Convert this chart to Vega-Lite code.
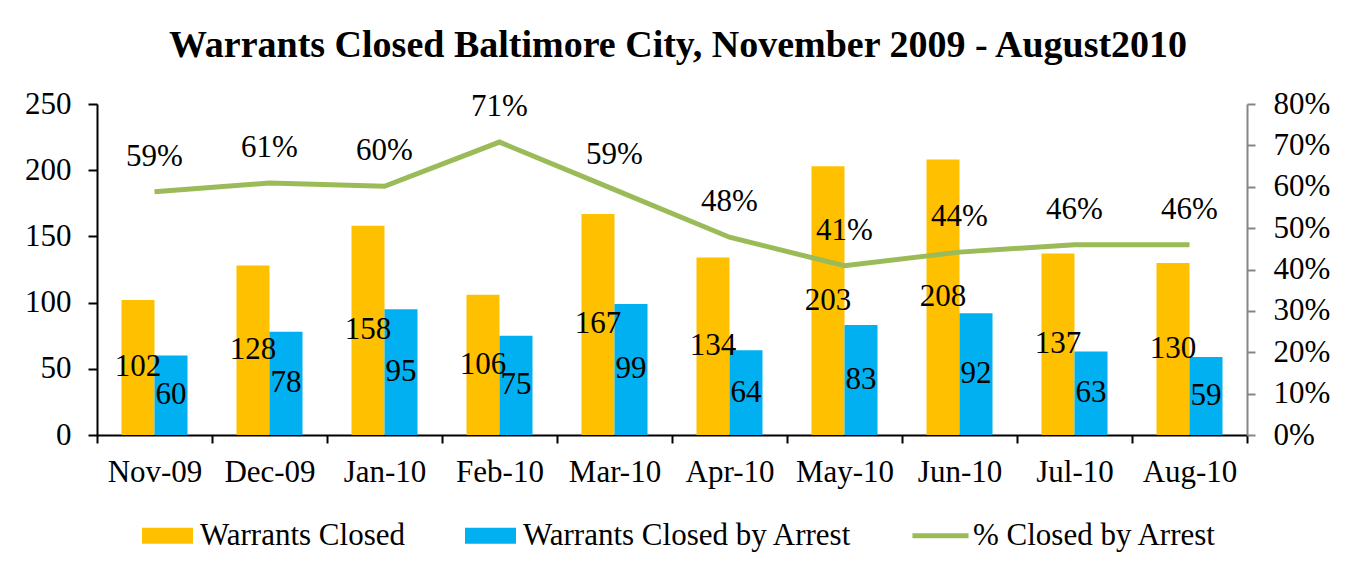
{
  "$schema": "https://vega.github.io/schema/vega-lite/v6.json",
  "width": 1150,
  "height": 331,
  "autosize": {"type": "none"},
  "padding": {"left": 97, "top": 104, "right": 107, "bottom": 140},
  "background": "white",
  "title": {
    "text": "Warrants  Closed Baltimore City, November 2009 - August2010",
    "font": "Liberation Serif",
    "fontSize": 38,
    "fontWeight": "bold",
    "color": "black",
    "anchor": "middle",
    "offset": 23,
    "dx": 6
  },
  "config": {
    "font": "Liberation Serif",
    "view": {"stroke": null},
    "text": {"font": "Liberation Serif"},
    "axis": {
      "labelFont": "Liberation Serif",
      "labelFontSize": 31,
      "labelColor": "black",
      "grid": false,
      "title": null
    },
    "legend": {
      "orient": "none",
      "legendX": 45,
      "legendY": 406,
      "direction": "horizontal",
      "title": null,
      "labelFont": "Liberation Serif",
      "labelFontSize": 31,
      "labelColor": "black",
      "symbolSize": 2601,
      "symbolStrokeWidth": 0,
      "labelOffset": 7,
      "columnPadding": 60,
      "labelLimit": 600
    }
  },
  "datasets": {
    "bars": [
      {"month": "Nov-09", "series": "Warrants Closed", "count": 102},
      {"month": "Nov-09", "series": "Warrants Closed by Arrest", "count": 60},
      {"month": "Dec-09", "series": "Warrants Closed", "count": 128},
      {"month": "Dec-09", "series": "Warrants Closed by Arrest", "count": 78},
      {"month": "Jan-10", "series": "Warrants Closed", "count": 158},
      {"month": "Jan-10", "series": "Warrants Closed by Arrest", "count": 95},
      {"month": "Feb-10", "series": "Warrants Closed", "count": 106},
      {"month": "Feb-10", "series": "Warrants Closed by Arrest", "count": 75},
      {"month": "Mar-10", "series": "Warrants Closed", "count": 167},
      {"month": "Mar-10", "series": "Warrants Closed by Arrest", "count": 99},
      {"month": "Apr-10", "series": "Warrants Closed", "count": 134},
      {"month": "Apr-10", "series": "Warrants Closed by Arrest", "count": 64},
      {"month": "May-10", "series": "Warrants Closed", "count": 203},
      {"month": "May-10", "series": "Warrants Closed by Arrest", "count": 83},
      {"month": "Jun-10", "series": "Warrants Closed", "count": 208},
      {"month": "Jun-10", "series": "Warrants Closed by Arrest", "count": 92},
      {"month": "Jul-10", "series": "Warrants Closed", "count": 137},
      {"month": "Jul-10", "series": "Warrants Closed by Arrest", "count": 63},
      {"month": "Aug-10", "series": "Warrants Closed", "count": 130},
      {"month": "Aug-10", "series": "Warrants Closed by Arrest", "count": 59}
    ],
    "pct": [
      {"month": "Nov-09", "pct": 0.588},
      {"month": "Dec-09", "pct": 0.609},
      {"month": "Jan-10", "pct": 0.601},
      {"month": "Feb-10", "pct": 0.708},
      {"month": "Mar-10", "pct": 0.593},
      {"month": "Apr-10", "pct": 0.478},
      {"month": "May-10", "pct": 0.409},
      {"month": "Jun-10", "pct": 0.442},
      {"month": "Jul-10", "pct": 0.46},
      {"month": "Aug-10", "pct": 0.46}
    ]
  },
  "encoding": {
    "x": {
      "field": "month",
      "type": "nominal",
      "sort": ["Nov-09","Dec-09","Jan-10","Feb-10","Mar-10","Apr-10","May-10","Jun-10","Jul-10","Aug-10"],
      "scale": {"paddingInner": 0, "paddingOuter": 0},
      "axis": {
        "labelAngle": 0,
        "domainColor": "black",
        "domainWidth": 2,
        "tickColor": "black",
        "tickWidth": 2,
        "tickSize": 8,
        "tickBand": "extent",
        "labelPadding": 14
      }
    }
  },
  "layer": [
    {
      "data": {"name": "bars"},
      "transform": [{"calculate": "datum.count / 2", "as": "mid"}],
      "encoding": {
        "xOffset": {
          "field": "series",
          "type": "nominal",
          "sort": ["Warrants Closed", "Warrants Closed by Arrest"],
          "scale": {"paddingInner": 0, "paddingOuter": 0.742}
        },
        "color": {
          "field": "series",
          "type": "nominal",
          "scale": {
            "domain": ["Warrants Closed", "Warrants Closed by Arrest", "% Closed by Arrest"],
            "range": ["#FFC000", "#00B0F0", "#9BBB59"]
          },
          "legend": {
            "encode": {
              "symbols": {
                "update": {
                  "shape": {"signal": "datum.value === '% Closed by Arrest' ? 'M-1.1,-0.1H1.1V0.1H-1.1Z' : 'M-1,-0.31H1V0.31H-1Z'"}
                }
              }
            }
          }
        }
      },
      "layer": [
        {
          "mark": {"type": "bar"},
          "encoding": {
            "y": {
              "field": "count",
              "type": "quantitative",
              "scale": {"domain": [0, 250], "nice": false},
              "axis": {
                "values": [0, 50, 100, 150, 200, 250],
                "domainColor": "black",
                "domainWidth": 2,
                "tickColor": "black",
                "tickWidth": 2,
                "tickSize": 9,
                "labelPadding": 17
              }
            }
          }
        },
        {
          "mark": {"type": "text", "font": "Liberation Serif", "fontSize": 31, "color": "black", "baseline": "middle"},
          "encoding": {
            "y": {"field": "mid", "type": "quantitative"},
            "text": {"field": "count", "type": "quantitative"},
            "color": {"value": "black"}
          }
        }
      ]
    },
    {
      "data": {"name": "pct"},
      "layer": [
        {
          "mark": {"type": "line", "strokeWidth": 5},
          "encoding": {
            "y": {
              "field": "pct",
              "type": "quantitative",
              "scale": {"domain": [0, 0.8], "nice": false},
              "axis": {
                "orient": "right",
                "format": ".0%",
                "values": [0, 0.1, 0.2, 0.3, 0.4, 0.5, 0.6, 0.7, 0.8],
                "domainColor": "#868686",
                "domainWidth": 2,
                "tickColor": "#868686",
                "tickWidth": 2,
                "tickSize": 8,
                "labelPadding": 18
              }
            },
            "color": {"datum": "% Closed by Arrest", "type": "nominal"}
          }
        },
        {
          "mark": {"type": "text", "font": "Liberation Serif", "fontSize": 31, "color": "black", "baseline": "middle", "dy": -35},
          "encoding": {
            "y": {"field": "pct", "type": "quantitative"},
            "text": {"field": "pct", "type": "quantitative", "format": ".0%"}
          }
        }
      ]
    }
  ],
  "resolve": {"scale": {"y": "independent"}}
}
